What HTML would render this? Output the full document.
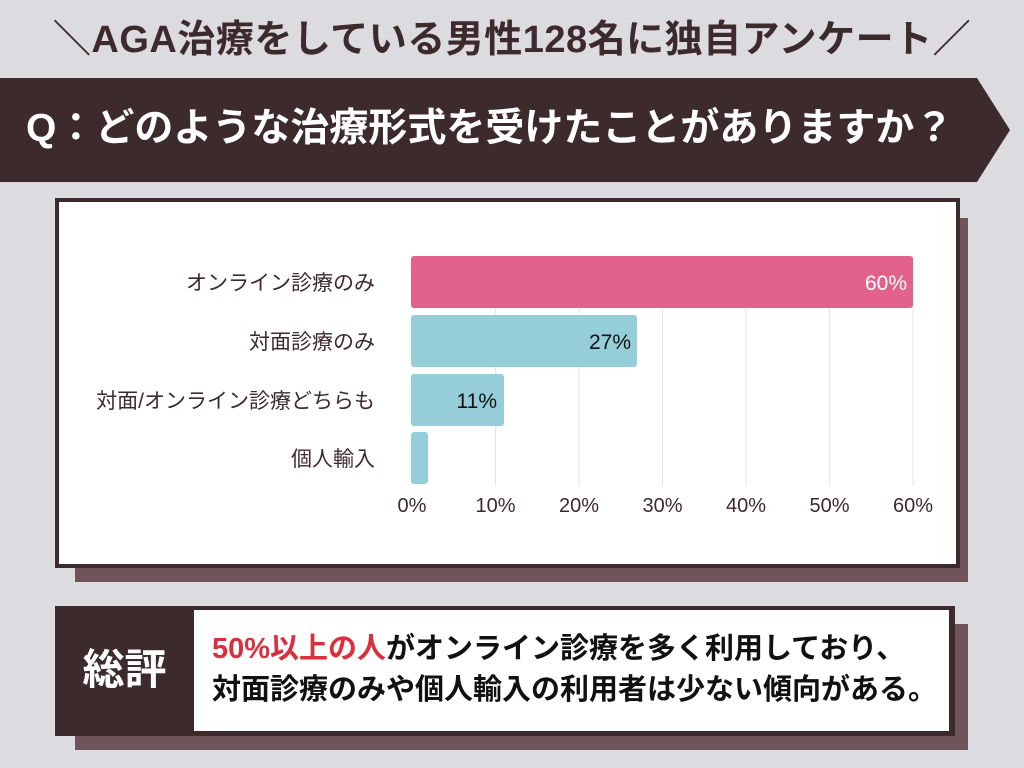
<!DOCTYPE html>
<html><head><meta charset="utf-8"><style>
body{margin:0;width:1024px;height:768px;background:#dcdce0;position:relative;overflow:hidden;font-family:"Liberation Sans","Noto Sans CJK JP",sans-serif;}
.abs{position:absolute;}
</style></head><body>
<div class="abs" style="left:0;top:14px;width:1024px;text-align:center;font-size:38px;font-weight:bold;color:#3d2a2d;line-height:52px;letter-spacing:0.5px;white-space:nowrap;">＼AGA治療をしている男性128名に独自アンケート／</div>
<svg class="abs" style="left:0;top:0" width="1024" height="768">
<polygon points="0,78 977,78 1010,130 977,182 0,182" fill="#3d2a2d"/>
<rect x="75" y="218" width="893" height="364" fill="#6f5459"/>
<rect x="57" y="200" width="901" height="366" fill="#fff" stroke="#3d2a2d" stroke-width="4"/>
<g stroke="#e6e6e6" stroke-width="1">
<line x1="495.5" y1="256" x2="495.5" y2="486"/><line x1="579" y1="256" x2="579" y2="486"/><line x1="662.5" y1="256" x2="662.5" y2="486"/><line x1="746" y1="256" x2="746" y2="486"/><line x1="829.5" y1="256" x2="829.5" y2="486"/><line x1="913" y1="256" x2="913" y2="486"/>
</g>
<rect x="411" y="256" width="502" height="52" rx="3" fill="#e3628c"/>
<rect x="411" y="315" width="226" height="52" rx="3" fill="#95cdd8"/>
<rect x="411" y="374" width="93" height="52" rx="3" fill="#95cdd8"/>
<rect x="411" y="432" width="17" height="52" rx="3" fill="#95cdd8"/>
<g font-size="21" font-family="Liberation Sans,Noto Sans CJK JP,sans-serif">
<text x="907" y="290" fill="#fff" text-anchor="end">60%</text>
<text x="631" y="349" fill="#111" text-anchor="end">27%</text>
<text x="497" y="408" fill="#111" text-anchor="end">11%</text>
</g>
<g font-size="20" fill="#3d2a2d" text-anchor="middle">
<text x="412" y="512">0%</text><text x="495.5" y="512">10%</text><text x="579" y="512">20%</text><text x="662.5" y="512">30%</text><text x="746" y="512">40%</text><text x="829.5" y="512">50%</text><text x="913" y="512">60%</text>
</g>
<g font-size="21" fill="#3d2a2d" text-anchor="end">
<text x="375" y="290">オンライン診療のみ</text>
<text x="375" y="349">対面診療のみ</text>
<text x="375" y="408">対面/オンライン診療どちらも</text>
<text x="375" y="466">個人輸入</text>
</g>
<rect x="75" y="624" width="893" height="126" fill="#6f5459"/>
<rect x="55" y="606" width="900" height="130" fill="#3d2a2d"/>
<rect x="194" y="610" width="755" height="121" fill="#fff"/>
</svg>
<div class="abs" style="left:0;top:102px;width:990px;padding-left:26px;font-size:39px;font-weight:bold;color:#fff;line-height:54px;white-space:nowrap;">Q：どのような治療形式を受けたことがありますか？</div>
<div class="abs" style="left:55px;top:640px;width:139px;text-align:center;font-size:42px;font-weight:bold;color:#fff;line-height:60px;">総評</div>
<div class="abs" style="left:212px;top:629px;font-size:29px;font-weight:bold;color:#111;line-height:41px;white-space:nowrap;"><span style="color:#d8303f">50%以上の人</span>がオンライン診療を多く利用しており、<br>対面診療のみや個人輸入の利用者は少ない傾向がある。</div>
</body></html>
